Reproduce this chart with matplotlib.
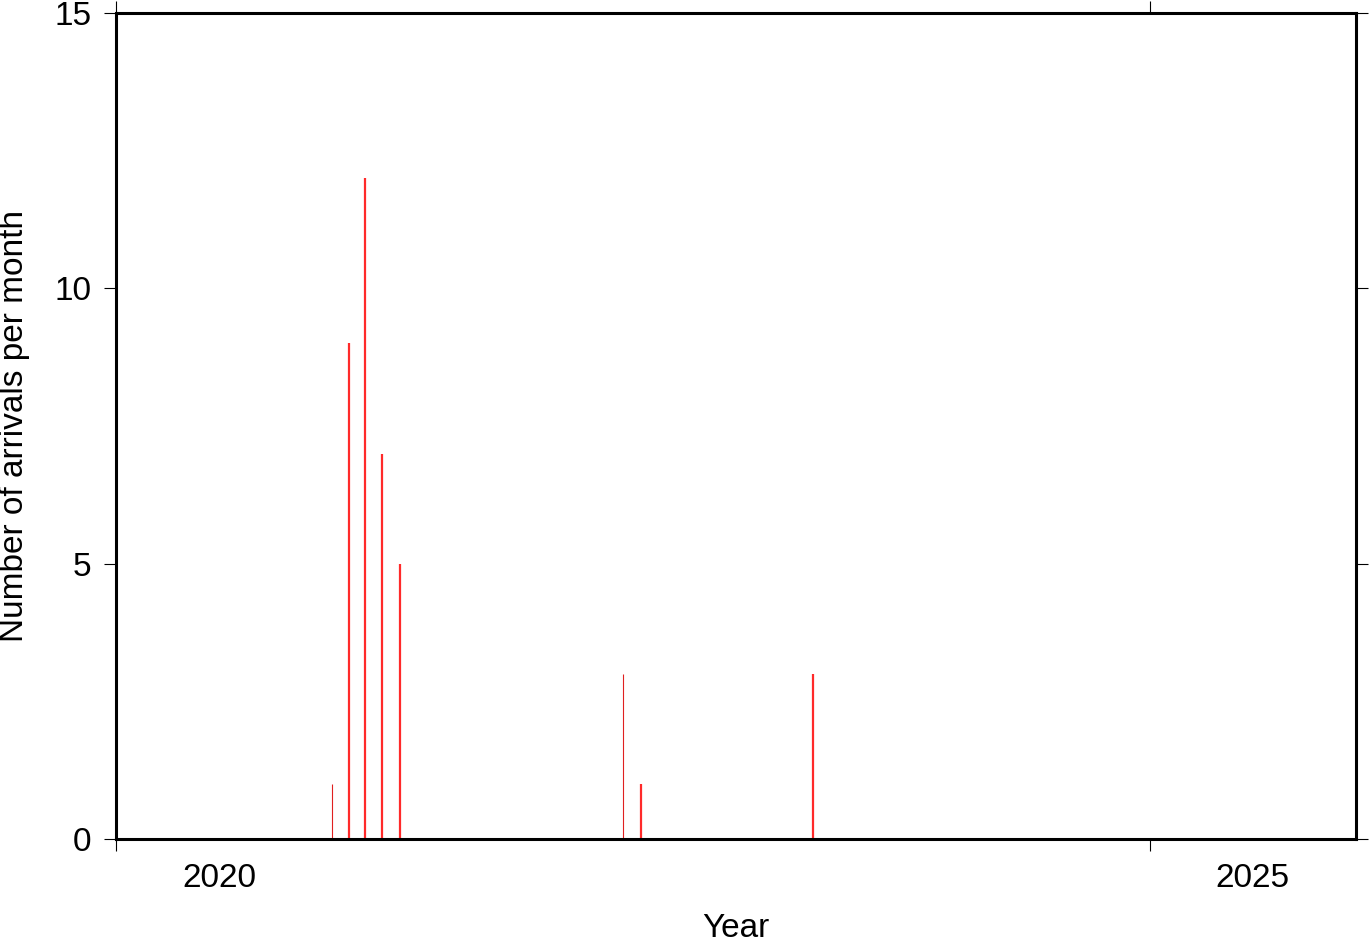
import matplotlib
matplotlib.use("Agg")
import matplotlib.pyplot as plt
import pandas as pd

plt.rcParams['font.family'] = ['Liberation Sans', 'DejaVu Sans']

# monthly arrival counts, two groups
thin_months = ["2021-01", "2022-06"]
thin_counts = [1, 3]
thick_months = ["2021-02", "2021-03", "2021-04", "2021-05", "2022-07", "2023-05"]
thick_counts = [9, 12, 7, 5, 1, 3]

year_ticks = [2020, 2025]
x_start, x_end = "2020-01-01", "2026-01-01"


def mid_month(months):
    p = pd.PeriodIndex(months, freq="M")
    return p.start_time + (p.end_time - p.start_time) / 2


fig = plt.figure(figsize=(13.69, 9.42), dpi=100)
ax = fig.add_axes([116 / 1369, 103 / 942, 1240 / 1369, 826 / 942])

ax.vlines(mid_month(thin_months), 0, thin_counts, color="#e02020", lw=0.8)
ax.vlines(mid_month(thick_months), 0, thick_counts, color="#ff2a2a", lw=1.6)

ax.set_xlim(pd.Timestamp(x_start), pd.Timestamp(x_end))
ax.set_ylim(0, 15)

# year boundaries as major ticks, labels centred in the year
ax.set_xticks([pd.Timestamp(f"{y}-01-01") for y in year_ticks])
ax.set_xticklabels([])
ax.set_xticks([pd.Timestamp(f"{y}-07-02") for y in year_ticks], minor=True)
ax.set_xticklabels([str(y) for y in year_ticks], minor=True)
ax.tick_params(axis="x", which="minor", length=0, pad=17, labelsize=24)
ax.tick_params(axis="x", which="major", length=8.6, width=0.8, direction="out",
               top=True)

ax.set_yticks([0, 5, 10, 15])
ax.tick_params(axis="y", length=8.6, width=0.8, direction="out", right=True,
               pad=9, labelsize=24)

for s in ax.spines.values():
    s.set_linewidth(2.2)

ax.set_xlabel("Year", fontsize=24)
ax.xaxis.set_label_coords(0.5, -0.089)
ax.set_ylabel("Number of arrivals per month", fontsize=24)
ax.yaxis.set_label_coords(-0.069, 0.5)

fig.savefig("out.png", dpi=100)
